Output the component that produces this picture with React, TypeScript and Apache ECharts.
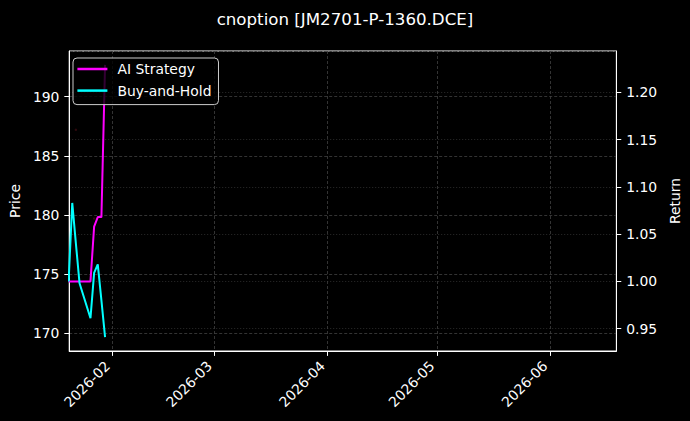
import { useEffect, useRef } from 'react'
import * as echarts from 'echarts'

// trading days shown in the chart
const dates = [
  '2026-01-20',
  '2026-01-21',
  '2026-01-22',
  '2026-01-23',
  '2026-01-26',
  '2026-01-27',
  '2026-01-28',
  '2026-01-29',
  '2026-01-30'
]

// cumulative returns
const aiStrategy = [1.0, 1.0, 1.0, 1.0, 1.0, 1.058, 1.068, 1.068, 1.229]
const buyAndHold = [1.0, 1.083, 1.04, 0.998, 0.961, 1.009, 1.018, 0.98, 0.941]

// faint price markers
const priceDates = ['2026-01-22', '2026-01-27']
const priceValues = [187.2, 179.7]

const titleText = 'cnoption [JM2701-P-1360.DCE]'
const font = 'DejaVu Sans'

function toTime(d: string, hour = 0): number {
  const [y, m, day] = d.split('-').map(Number)
  return new Date(y, m - 1, day, hour).getTime()
}

function App() {
  const chartRef = useRef<HTMLDivElement>(null)

  useEffect(() => {
    document.body.style.margin = '0'
    document.body.style.background = '#000'
    const myChart = echarts.init(chartRef.current, null, { renderer: 'svg' })

    const gridLine = { show: true, lineStyle: { color: '#404040', type: [3, 2], width: 0.8 } }

    const option = {
      animation: false,
      backgroundColor: '#000',
      title: {
        text: titleText,
        left: 'center',
        top: 6,
        textStyle: { color: '#fff', fontFamily: font, fontSize: 16.67, fontWeight: 'normal' }
      },
      legend: {
        data: ['AI Strategy', 'Buy-and-Hold'],
        orient: 'vertical',
        left: 73,
        top: 58,
        icon: 'rect',
        itemWidth: 30,
        itemHeight: 2.5,
        itemGap: 5.6,
        padding: [3, 7, 6, 4.4],
        backgroundColor: 'rgba(0,0,0,0.8)',
        borderColor: '#cccccc',
        borderWidth: 1,
        borderRadius: 4,
        textStyle: {
          color: '#fff',
          fontFamily: font,
          fontSize: 13.9,
          lineHeight: 16,
          padding: [0, 0, 0, 5]
        }
      },
      grid: { left: 66.4, right: 69.5, top: 51, bottom: 70, show: true, borderColor: '#fff', borderWidth: 1 },
      xAxis: {
        type: 'time',
        min: toTime('2026-01-20', 4),
        max: toTime('2026-06-19', 6),
        splitNumber: 5,
        axisLine: { lineStyle: { color: '#fff' } },
        axisTick: { show: true, length: 4.9, lineStyle: { color: '#fff' } },
        axisLabel: {
          color: '#fff',
          fontFamily: font,
          fontSize: 13.9,
          rotate: 45,
          margin: 17.5,
          verticalAlign: 'bottom',
          showMinLabel: false,
          showMaxLabel: false,
          formatter: '{yyyy}-{MM}'
        },
        splitLine: gridLine
      },
      yAxis: [
        {
          type: 'value',
          name: 'Price',
          nameLocation: 'middle',
          nameGap: 43,
          nameRotate: 90,
          nameTextStyle: { color: '#fff', fontFamily: font, fontSize: 13.9 },
          min: 168.5,
          max: 193.86,
          splitNumber: 5,
          position: 'left',
          axisLine: { show: true, lineStyle: { color: '#fff' } },
          axisTick: { show: true, length: 4.9, lineStyle: { color: '#fff' } },
          axisLabel: {
            color: '#fff',
            fontFamily: font,
            fontSize: 13.9,
            margin: 9.8,
            showMinLabel: false,
            showMaxLabel: false
          },
          splitLine: gridLine
        },
        {
          type: 'value',
          name: 'Return',
          nameLocation: 'middle',
          nameGap: 44,
          nameRotate: 90,
          nameTextStyle: { color: '#fff', fontFamily: font, fontSize: 13.9 },
          min: 0.9264,
          max: 1.2437,
          splitNumber: 6,
          position: 'right',
          axisLine: { show: true, lineStyle: { color: '#fff' } },
          axisTick: { show: true, length: 4.9, lineStyle: { color: '#fff' } },
          axisLabel: {
            color: '#fff',
            fontFamily: font,
            fontSize: 13.9,
            margin: 9.8,
            showMinLabel: false,
            showMaxLabel: false,
            formatter: (v: number) => v.toFixed(2)
          },
          splitLine: { show: true, lineStyle: { color: '#363636', type: [1, 2], width: 0.8 } }
        }
      ],
      series: [
        {
          name: 'Price',
          type: 'scatter',
          yAxisIndex: 0,
          symbolSize: 2.5,
          itemStyle: { color: '#3a0b12' },
          data: priceDates.map((d, i) => [toTime(d), priceValues[i]])
        },
        {
          name: 'AI Strategy',
          type: 'line',
          yAxisIndex: 1,
          showSymbol: false,
          color: '#ff00ff',
          lineStyle: { color: '#ff00ff', width: 2 },
          data: dates.map((d, i) => [toTime(d), aiStrategy[i]])
        },
        {
          name: 'Buy-and-Hold',
          type: 'line',
          yAxisIndex: 1,
          showSymbol: false,
          color: '#00ffff',
          lineStyle: { color: '#00ffff', width: 2 },
          data: dates.map((d, i) => [toTime(d), buyAndHold[i]])
        }
      ]
    }

    myChart.setOption(option)

    return () => {
      myChart.dispose()
    }
  }, [])

  return <div ref={chartRef} style={{ width: '690px', height: '421px' }}></div>
}

export default App
